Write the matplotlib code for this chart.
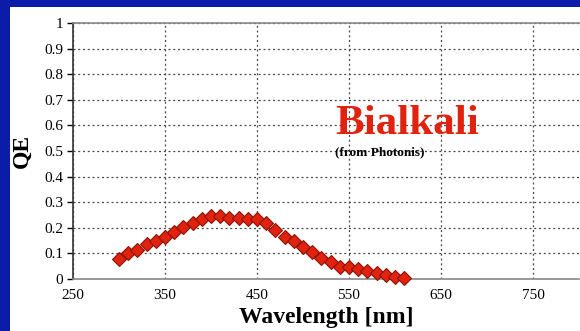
import matplotlib
matplotlib.use("Agg")
import matplotlib.pyplot as plt
from matplotlib.patches import Rectangle

# Bialkali photocathode quantum efficiency (from Photonis)
wavelength = [300, 310, 320, 330, 340, 350, 360, 370, 380, 390,
              400, 410, 420, 430, 440, 450, 460, 470, 480, 490,
              500, 510, 520, 530, 540, 550, 560, 570, 580, 590,
              600, 610]
qe = [0.080, 0.100, 0.115, 0.135, 0.150, 0.165, 0.185, 0.205, 0.220, 0.235,
      0.245, 0.245, 0.240, 0.240, 0.235, 0.236, 0.218, 0.191, 0.166, 0.148,
      0.126, 0.104, 0.081, 0.068, 0.048, 0.045, 0.041, 0.031, 0.022, 0.016,
      0.007, 0.005]

x_ticks = [250, 350, 450, 550, 650, 750]
y_ticks = [0, 0.1, 0.2, 0.3, 0.4, 0.5, 0.6, 0.7, 0.8, 0.9, 1]
y_tick_labels = ["0", "0.1", "0.2", "0.3", "0.4", "0.5", "0.6", "0.7", "0.8", "0.9", "1"]

serif = ["Liberation Serif", "DejaVu Serif"]
plt.rcParams["font.family"] = serif

fig = plt.figure(figsize=(5.8, 3.31), dpi=100, facecolor="#0b1ca8")
# white slide panel behind the chart
fig.patches.append(Rectangle((10 / 580, 0), 1, (331 - 7) / 331,
                             transform=fig.transFigure, facecolor="white",
                             edgecolor="none", zorder=-10))

ax = fig.add_axes([73 / 580, 52 / 331, 506 / 580, 256 / 331])
ax.set_facecolor("white")
ax.set_xlim(250, 800)
ax.set_ylim(0, 1)

ax.plot(wavelength, qe, linestyle="none", marker="D", markersize=7.2,
        markerfacecolor="#e0220f", markeredgecolor="#8a1408",
        markeredgewidth=0.8, zorder=3, clip_on=False)

ax.set_xticks(x_ticks)
ax.set_yticks(y_ticks)
ax.set_yticklabels(y_tick_labels)
ax.tick_params(axis="x", length=0, pad=7, labelsize=11, colors="black")
ax.tick_params(axis="y", length=4, width=1, direction="out", pad=3,
               labelsize=11, colors="black")

ax.grid(True, color="#4a4a4a", linestyle=(0, (1.6, 2.2)), linewidth=0.9)
ax.set_axisbelow(True)

for side in ("top", "bottom"):
    ax.spines[side].set_color("#888888")
    ax.spines[side].set_linewidth(1.2)
ax.spines["left"].set_color("#333333")
ax.spines["left"].set_linewidth(1.2)
ax.spines["right"].set_visible(False)

ax.set_xlabel("Wavelength [nm]", fontsize=17, fontweight="bold", labelpad=3.5)
ax.set_ylabel("QE", fontsize=17, fontweight="bold", labelpad=8)

ax.text(535, 0.565, "Bialkali", color="#e0220f", fontsize=31,
        fontweight="bold", ha="left", va="baseline")
ax.text(535, 0.482, "(from Photonis)", color="black", fontsize=9.5,
        fontweight="bold", ha="left", va="baseline")

fig.savefig("out.png", dpi=100, facecolor=fig.get_facecolor())
